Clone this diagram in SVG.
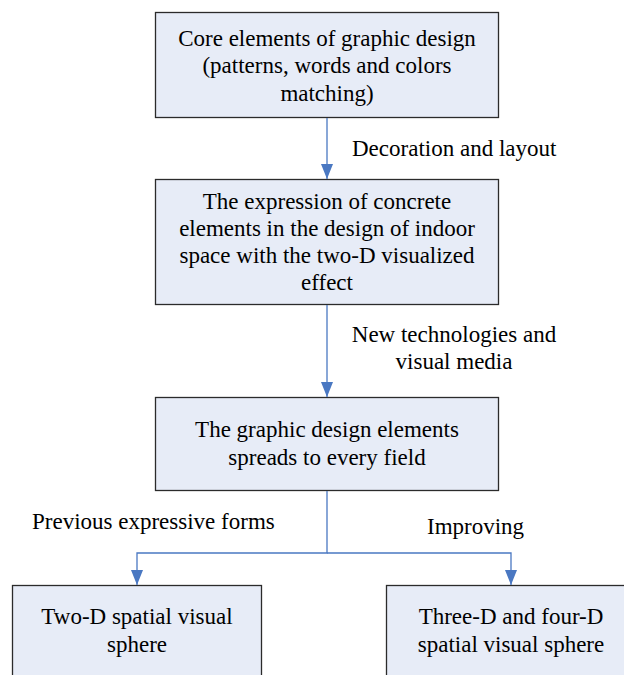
<svg xmlns="http://www.w3.org/2000/svg" width="624" height="675" viewBox="0 0 624 675">
<style>
.box{fill:#E7ECF7;stroke:#2b2b2b;stroke-width:1.3}
.t{font-family:"Liberation Serif","Times New Roman",serif;font-size:23px;fill:#000;text-anchor:middle}
.l{font-family:"Liberation Serif","Times New Roman",serif;font-size:23px;fill:#000}
.c{fill:none;stroke:#4A78C2;stroke-width:1.3}
</style>
<defs>
<marker id="ah" viewBox="0 0 15 12" refX="15" refY="6" markerWidth="15" markerHeight="12" markerUnits="userSpaceOnUse" orient="auto">
<path d="M0,0 L15,6 L0,12 Z" fill="#4A78C2"/>
</marker>
</defs>
<rect width="624" height="675" fill="#fff"/>
<g id="n1"><rect class="box" x="155.5" y="12.5" width="343" height="105"/>
<text class="t" x="327" y="46">Core elements of graphic design</text>
<text class="t" x="327" y="73">(patterns, words and colors</text>
<text class="t" x="327" y="101">matching)</text></g>
<g id="n2"><rect class="box" x="155.5" y="179.5" width="343" height="125"/>
<text class="t" x="327" y="209">The expression of concrete</text>
<text class="t" x="327" y="236">elements in the design of indoor</text>
<text class="t" x="327" y="263">space with the two-D visualized</text>
<text class="t" x="327" y="290">effect</text></g>
<g id="n3"><rect class="box" x="155.5" y="397.5" width="343" height="93"/>
<text class="t" x="327" y="437">The graphic design elements</text>
<text class="t" x="327" y="465">spreads to every field</text></g>
<g id="n4"><rect class="box" x="12.5" y="585.5" width="249" height="100"/>
<text class="t" x="137" y="624">Two-D spatial visual</text>
<text class="t" x="137" y="652">sphere</text></g>
<g id="n5"><rect class="box" x="386.5" y="585.5" width="250" height="100"/>
<text class="t" x="511" y="624">Three-D and four-D</text>
<text class="t" x="511" y="652">spatial visual sphere</text></g>
<g id="connectors">
<path class="c" d="M327,118 V179" marker-end="url(#ah)"/>
<path class="c" d="M327,305 V397" marker-end="url(#ah)"/>
<path class="c" d="M327,491 V553 H137 V585" marker-end="url(#ah)"/>
<path class="c" d="M327,553 H511 V585" marker-end="url(#ah)"/>
<text class="l" x="352" y="156">Decoration and layout</text>
<text class="t" x="454" y="342">New technologies and</text>
<text class="t" x="454" y="369">visual media</text>
<text class="l" x="32" y="529">Previous expressive forms</text>
<text class="l" x="427" y="534">Improving</text>
</g>
</svg>
